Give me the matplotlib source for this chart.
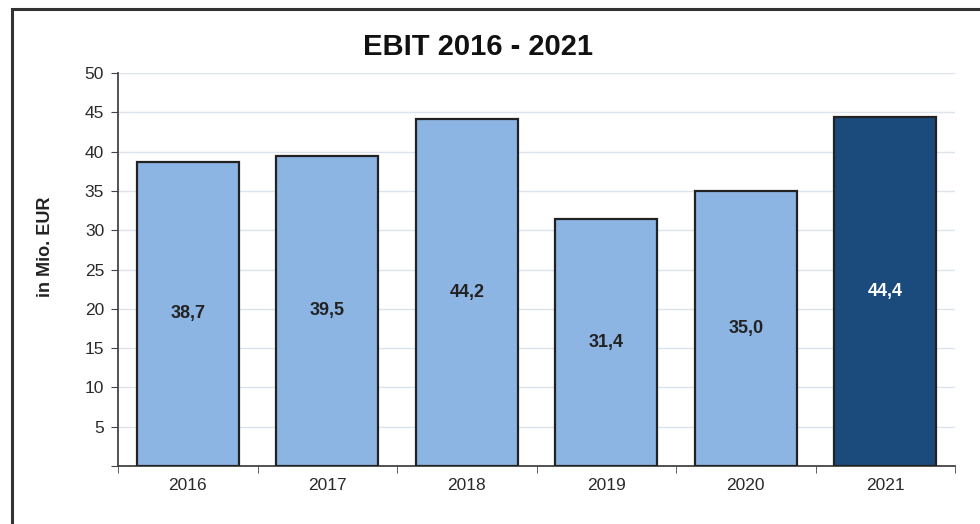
import matplotlib.pyplot as plt
import matplotlib.patches as patches

years = ["2016", "2017", "2018", "2019", "2020", "2021"]
ebit = [38.7, 39.5, 44.2, 31.4, 35.0, 44.4]
labels = ["38,7", "39,5", "44,2", "31,4", "35,0", "44,4"]
colors = ["#8db5e3", "#8db5e3", "#8db5e3", "#8db5e3", "#8db5e3", "#1a4b7c"]
label_colors = ["#222222"] * 5 + ["white"]

plt.rcParams['font.family'] = ['Liberation Sans', 'DejaVu Sans']

fig = plt.figure(figsize=(9.8, 5.24), dpi=100)
# outer frame of the scanned chart
fig.patches.append(patches.Rectangle((12 / 980, -0.05), 1.1, 1 - 9 / 524 + 0.05,
                                     transform=fig.transFigure, fill=False,
                                     edgecolor="#333333", linewidth=2.2))

ax = fig.add_axes([118 / 980, (524 - 466) / 524, (955 - 118) / 980, (466 - 73) / 524])
x = range(len(years))
bars = ax.bar(x, ebit, width=0.73, color=colors, edgecolor="#222222", linewidth=1.6, zorder=3)

for i, b in enumerate(bars):
    ax.text(b.get_x() + b.get_width() / 2, ebit[i] / 2, labels[i], ha="center", va="center",
            fontsize=13, fontweight="bold", color=label_colors[i], zorder=4)

ax.set_xlim(-0.5, len(years) - 0.5)
ax.set_ylim(0, 50)
ax.set_yticks(range(0, 51, 5))
ax.set_yticklabels([""] + [str(v) for v in range(5, 51, 5)])
ax.yaxis.grid(True, color="#dde3ea", linewidth=1, zorder=0)
ax.set_xticks(list(x))
ax.set_xticklabels(years)
ax.set_xticks([i + 0.5 for i in range(-1, len(years))], minor=True)
ax.tick_params(axis="x", which="major", length=0, pad=9, labelsize=12.5, colors="#2a2a2a")
ax.tick_params(axis="x", which="minor", length=5, direction="out", color="#444444")
ax.tick_params(axis="y", length=5, labelsize=12.5, colors="#2a2a2a", pad=5)
ax.tick_params(axis="y", color="#444444")

for s in ["top", "right"]:
    ax.spines[s].set_visible(False)
ax.spines["left"].set_color("#444444")
ax.spines["bottom"].set_color("#444444")
ax.spines["left"].set_linewidth(1.3)
ax.spines["bottom"].set_linewidth(1.3)

fig.text(45 / 980, 1 - 247 / 524, "in Mio. EUR", rotation=90, ha="center", va="center",
         fontsize=13, fontweight="bold", color="#222222")
fig.text(478 / 980, 1 - 47 / 524, "EBIT 2016 - 2021", ha="center", va="center",
         fontsize=21, fontweight="bold", color="#111111")

fig.savefig("out.png", dpi=100)
